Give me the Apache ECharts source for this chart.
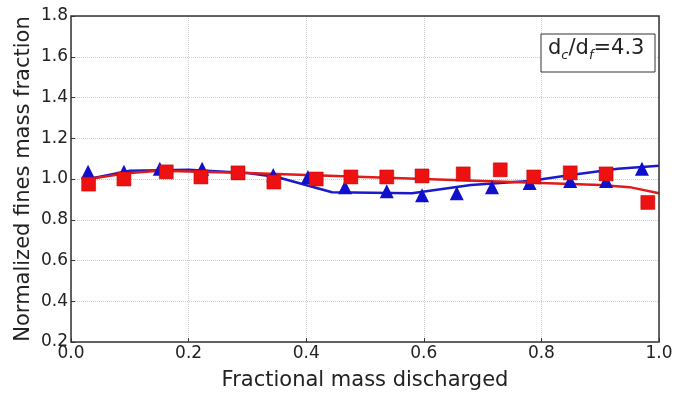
<!DOCTYPE html>
<html>
<head>
<meta charset="utf-8">
<script src="https://cdn.jsdelivr.net/npm/echarts@6/dist/echarts.min.js"></script>
<style>
  html, body { margin: 0; padding: 0; background: #fff; }
  #main { width: 680px; height: 396px; }
</style>
</head>
<body>
<div id="main"></div>
<script>
// 三角形点 (蓝)
var triX = [0.029, 0.09, 0.151, 0.223, 0.284, 0.344, 0.403, 0.466, 0.537, 0.597, 0.656, 0.716, 0.78, 0.849, 0.91, 0.971]
var triY = [1.035, 1.035, 1.05, 1.05, 1.03, 1.02, 1.01, 0.96, 0.94, 0.92, 0.93, 0.96, 0.98, 0.99, 0.99, 1.05]
// 方块点 (红)
var sqX = [0.03, 0.09, 0.162, 0.221, 0.284, 0.345, 0.417, 0.476, 0.537, 0.597, 0.667, 0.73, 0.787, 0.849, 0.91, 0.981]
var sqY = [0.975, 1.0, 1.035, 1.01, 1.03, 0.985, 1.0, 1.01, 1.01, 1.015, 1.025, 1.045, 1.01, 1.03, 1.025, 0.885]
// 拟合曲线
var blueLineX = [0.03, 0.1, 0.2, 0.3, 0.35, 0.444, 0.58, 0.68, 0.78, 0.85, 0.93, 1.0]
var blueLineY = [1.0, 1.04, 1.045, 1.03, 1.01, 0.935, 0.93, 0.97, 0.99, 1.02, 1.05, 1.065]
var redLineX = [0.03, 0.1, 0.15, 0.3, 0.4, 0.5, 0.6, 0.7, 0.8, 0.9, 0.95, 1.0]
var redLineY = [1.0, 1.03, 1.04, 1.03, 1.02, 1.01, 1.0, 0.99, 0.98, 0.97, 0.96, 0.93]
// 刻度
var xTicks = [0.0, 0.2, 0.4, 0.6, 0.8, 1.0]
var yTicks = [0.2, 0.4, 0.6, 0.8, 1.0, 1.2, 1.4, 1.6, 1.8]

function pairs(xs, ys) {
  return xs.map(function (x, i) { return [x, ys[i]] })
}

var myChart = echarts.init(document.getElementById("main"))
var font = "DejaVu Sans"
var option = {
  animation: false,
  grid: {
    left: 71, right: 21, top: 16, bottom: 51,
    show: true,
    borderColor: '#333',
    borderWidth: 1.5,
    z: 10
  },
  xAxis: {
    type: 'value',
    min: xTicks[0], max: xTicks[xTicks.length - 1], interval: 0.2,
    name: 'Fractional mass discharged',
    nameLocation: 'middle',
    nameGap: 28,
    nameMoveOverlap: false,
    nameTextStyle: { fontFamily: font, fontSize: 21, color: '#222' },
    axisLine: { show: false },
    axisTick: { show: true, inside: true, length: 4, lineStyle: { color: '#333' } },
    axisLabel: {
      fontFamily: font, fontSize: 17, color: '#222', margin: 3,
      formatter: function (v) { return v.toFixed(1) }
    },
    splitLine: { lineStyle: { color: '#ccc', type: 'dotted' } }
  },
  yAxis: {
    type: 'value',
    min: yTicks[0], max: yTicks[yTicks.length - 1], interval: 0.2,
    name: 'Normalized fines mass fraction',
    nameLocation: 'middle',
    nameGap: 37,
    nameMoveOverlap: false,
    nameTextStyle: { fontFamily: font, fontSize: 21, color: '#222' },
    axisLine: { show: false },
    axisTick: { show: true, inside: true, length: 4, lineStyle: { color: '#333' } },
    axisLabel: {
      fontFamily: font, fontSize: 17, color: '#222', margin: 3,
      formatter: function (v) { return v.toFixed(1) }
    },
    splitLine: { lineStyle: { color: '#ccc', type: 'dotted' } }
  },
  graphic: [
    {
      type: 'rect',
      shape: { x: 541, y: 34, width: 114, height: 38 },
      style: { fill: '#fff', stroke: '#333', lineWidth: 1 },
      z: 20
    },
    {
      type: 'text',
      left: 548, top: 38,
      z: 21,
      style: {
        text: '{n|d}{s|c}{n|/d}{s|f}{n|=4.3}',
        rich: {
          n: { fontFamily: font, fontSize: 21, fill: '#222' },
          s: { fontFamily: font, fontSize: 13, fontStyle: 'italic', fill: '#222', padding: [14, 0, 0, 0] }
        }
      }
    }
  ],
  series: [
    {
      name: 'blue fit', type: 'line', data: pairs(blueLineX, blueLineY),
      showSymbol: false, lineStyle: { color: '#1a1acc', width: 2.5 }, z: 3
    },
    {
      name: 'red fit', type: 'line', data: pairs(redLineX, redLineY),
      showSymbol: false, lineStyle: { color: '#e01b1b', width: 2.5 }, z: 4
    },
    {
      name: 'triangles', type: 'scatter', data: pairs(triX, triY),
      symbol: 'triangle', symbolSize: 14,
      itemStyle: { color: '#1010cc', opacity: 1 }, z: 5
    },
    {
      name: 'squares', type: 'scatter', data: pairs(sqX, sqY),
      symbol: 'rect', symbolSize: 14,
      itemStyle: { color: '#ee1111', borderColor: '#b00', borderWidth: 0.5, opacity: 1 }, z: 6
    }
  ]
}
myChart.setOption(option)
</script>
</body>
</html>
